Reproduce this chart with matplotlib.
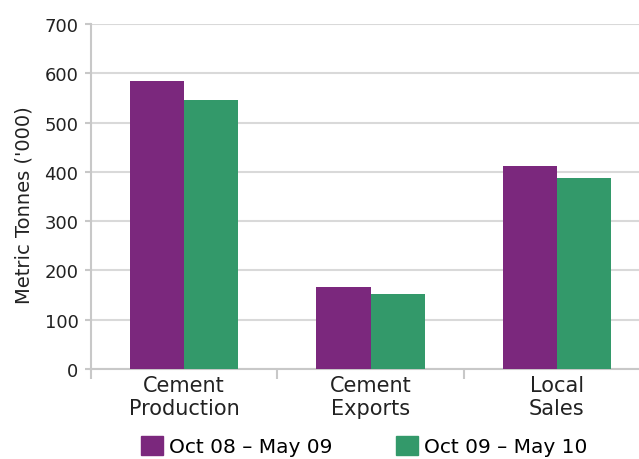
import matplotlib
matplotlib.use("Agg")
import matplotlib.pyplot as plt
import numpy as np
from matplotlib.patches import Patch

categories = ["Cement\nProduction", "Cement\nExports", "Local\nSales"]
series_names = ["Oct 08 \u2013 May 09", "Oct 09 \u2013 May 10"]
values_0809 = [585, 166, 412]
values_0910 = [546, 152, 388]
colors = ["#7B287D", "#33996A"]

plt.rcParams['font.family'] = ['DejaVu Sans']

fig = plt.figure(figsize=(6.39, 4.60), dpi=100)
W, H = 639, 460
left, right = 91, 650
bottom, top = 370, 25
ax = fig.add_axes([left / W, 1 - bottom / H, (right - left) / W, (bottom - top) / H])

x = np.arange(len(categories))
bw = 0.29
ax.bar(x - bw / 2, values_0809, bw, color=colors[0], zorder=3)
ax.bar(x + bw / 2, values_0910, bw, color=colors[1], zorder=3)

ax.set_xlim(-0.5, len(categories) - 0.5)
ax.set_ylim(0, 700)
ax.set_yticks(range(0, 701, 100))
ax.yaxis.grid(True, color="#d9d9d9", linewidth=1.5, zorder=0)
ax.set_axisbelow(True)

for s in ["top", "right"]:
    ax.spines[s].set_visible(False)
ax.spines["left"].set_color("#c8c8c8")
ax.spines["left"].set_linewidth(1.5)
ax.spines["bottom"].set_color("#c8c8c8")
ax.spines["bottom"].set_linewidth(1.5)

ax.set_xticks(x)
ax.set_xticklabels(categories, fontsize=15, color="#222222", linespacing=1.2)
ax.tick_params(axis="x", length=0, pad=4)
ax.set_xticks(np.arange(-0.5, len(categories), 1.0), minor=True)
ax.tick_params(axis="x", which="minor", length=7, width=1.5, color="#c8c8c8")
ax.tick_params(axis="y", length=4, width=1.5, color="#c8c8c8", labelsize=13,
               labelcolor="#222222", pad=5)

fig.text(24 / W, 1 - 205 / H, "Metric Tonnes ('000)", rotation=90, fontsize=14,
         color="#222222", ha="center", va="center")

handles = [Patch(color=colors[0]), Patch(color=colors[1])]
fig.legend(handles, series_names, loc="center", bbox_to_anchor=(0.570, 1 - 447 / H),
           ncol=2, frameon=False, fontsize=14.5, handlelength=1.05, handleheight=1.05,
           columnspacing=3.2, handletextpad=0.3, borderpad=0, borderaxespad=0)

fig.savefig("out.png", dpi=100)
